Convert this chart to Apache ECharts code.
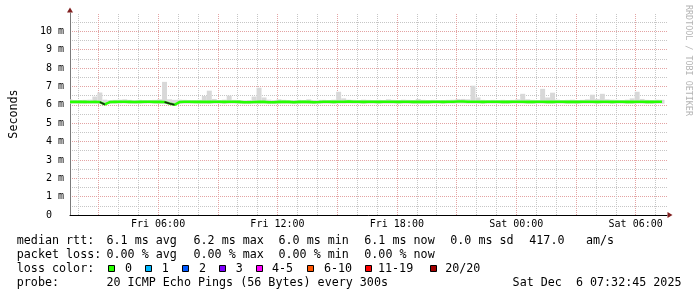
<!DOCTYPE html>
<html><head><meta charset="utf-8">
<script src="https://cdn.jsdelivr.net/npm/echarts@6/dist/echarts.min.js"></script>
<style>html,body{margin:0;padding:0;background:#fff}#c{width:697px;height:297px}</style>
</head><body><div id="c"></div>
<script>
// time axis: hours since Fri 00:00
const START = 1.575;
const STEP = 0.25;
const SPAN = 30;
const xTickHours = [6, 12, 18, 24, 30];
const xTickLabels = ['Fri 06:00', 'Fri 12:00', 'Fri 18:00', 'Sat 00:00', 'Sat 06:00'];
const yTickValues = [0,1,2,3,4,5,6,7,8,9,10];

// median rtt (ms), one value per 15 minutes
const median = [
6.16,6.16,6.17,6.16,6.15,6.16,6.15,6.02,6.15,6.16,
6.17,6.17,6.16,6.15,6.16,6.17,6.17,6.16,6.16,6.15,
6.07,6.00,6.15,6.17,6.17,6.16,6.16,6.17,6.16,6.17,
6.17,6.16,6.17,6.17,6.16,6.14,6.14,6.15,6.16,6.16,
6.14,6.14,6.16,6.17,6.16,6.14,6.16,6.17,6.16,6.14,
6.15,6.17,6.17,6.16,6.17,6.17,6.18,6.17,6.17,6.16,
6.17,6.17,6.16,6.17,6.17,6.17,6.16,6.17,6.17,6.16,
6.16,6.16,6.16,6.17,6.17,6.16,6.17,6.17,6.18,6.18,
6.17,6.17,6.17,6.16,6.17,6.17,6.17,6.16,6.16,6.17,
6.17,6.17,6.16,6.16,6.17,6.17,6.16,6.16,6.17,6.17,
6.16,6.17,6.16,6.17,6.17,6.17,6.16,6.17,6.17,6.16,
6.17,6.17,6.16,6.16,6.17,6.17,6.16,6.16,6.17,6.17];

// smoke (min / max of pings)
const smokeLow = [
6.06,6.07,6.06,6.05,6.06,6.06,6.05,5.99,6.05,6.06,
6.06,6.07,6.06,6.05,6.06,6.06,6.07,6.06,6.05,6.04,
6.02,5.97,6.05,6.06,6.06,6.07,6.06,6.06,6.05,6.06,
6.06,6.05,6.06,6.06,6.05,6.04,6.04,6.05,6.05,6.06,
6.04,6.04,6.05,6.06,6.06,6.04,6.05,6.06,6.05,6.04,
6.05,6.06,6.06,6.05,6.06,6.06,6.07,6.06,6.06,6.05,
6.06,6.06,6.05,6.06,6.06,6.06,6.05,6.06,6.06,6.05,
6.05,6.05,6.05,6.06,6.06,6.05,6.06,6.06,6.07,6.07,
6.06,6.06,6.06,6.05,6.06,6.06,6.06,6.05,6.05,6.06,
6.06,6.06,6.05,6.05,6.06,6.06,6.05,6.05,6.06,6.06,
6.05,6.06,6.05,6.06,6.06,6.06,6.05,6.06,6.06,6.05,
6.06,6.06,6.05,6.05,6.06,6.06,6.05,6.05,6.06,6.06];
const smokeHigh = [
6.30,6.26,6.26,6.27,6.28,6.45,6.67,6.28,6.26,6.27,
6.28,6.30,6.27,6.26,6.27,6.26,6.26,6.27,6.30,7.25,
6.30,6.27,6.28,6.27,6.26,6.26,6.27,6.48,6.77,6.32,
6.26,6.28,6.50,6.27,6.26,6.25,6.26,6.45,6.93,6.40,
6.28,6.26,6.30,6.27,6.25,6.26,6.27,6.26,6.30,6.26,
6.27,6.27,6.26,6.28,6.71,6.35,6.28,6.27,6.26,6.28,
6.27,6.26,6.27,6.26,6.30,6.27,6.26,6.28,6.27,6.26,
6.32,6.27,6.26,6.27,6.26,6.26,6.27,6.28,6.32,6.32,
6.30,7.04,6.40,6.27,6.26,6.27,6.26,6.27,6.26,6.27,
6.30,6.60,6.30,6.27,6.26,6.87,6.40,6.66,6.28,6.26,
6.27,6.28,6.26,6.27,6.30,6.55,6.32,6.60,6.30,6.28,
6.27,6.26,6.28,6.35,6.71,6.32,6.27,6.26,6.28,6.27];
// index ranges where median line is drawn dark
const darkRanges = [[6, 7], [19, 21]];

// legend texts
const rowLabels = ['median rtt:', 'packet loss:', 'loss color:', 'probe:'];
const rttStats = ['6.1 ms avg', '6.2 ms max', '6.0 ms min', '6.1 ms now', '0.0 ms sd', '417.0', 'am/s'];
const lossStats = ['0.00 % avg', '0.00 % max', '0.00 % min', '0.00 % now'];
const lossLabels = ['0', '1', '2', '3', '4-5', '6-10', '11-19', '20/20'];
const lossColorValues = ['#26ff00', '#00b8ff', '#0059ff', '#7e00ff', '#ff00ff', '#ff5500', '#ff0000', '#a00000'];
const probeText = '20 ICMP Echo Pings (56 Bytes) every 300s';
const dateText = 'Sat Dec  6 07:32:45 2025';
const watermark = 'RRDTOOL / TOBI OETIKER';

const tOf = i => START + i * STEP;
const medianData = median.map((v, i) => [tOf(i), v]);
const smokeData = smokeLow.map((v, i) => [tOf(i), v, smokeHigh[i]]);
const darkData = [];
darkRanges.forEach((r, k) => {
  if (k > 0) darkData.push([null, null]);
  for (let i = r[0]; i <= r[1]; i++) darkData.push([tOf(i), median[i]]);
});

const PINK = '#e3a3a3', GRAY = '#c6c6c6';
const vLines = [];
for (let h = Math.ceil(START); h <= START + SPAN; h++) {
  vLines.push({ xAxis: h, lineStyle: { color: h % 3 === 0 ? PINK : GRAY, type: [1, 1], width: 1 } });
}

const MONO = 'DejaVu Sans Mono';
const LF = '11.7px "DejaVu Sans Mono"';
const rowY = [241, 255, 268.5, 282.5];
const rttX = [106.5, 193.5, 278.5, 364.3, 450.3, 529.3, 586];
const boxX = [108.5, 145.5, 182.5, 219.5, 256.5, 307.5, 365.5, 430.5];
const lblX = [125, 161.8, 199, 235.8, 272, 324, 378, 445.2];
const g = [];
const txt = (s, x, y) => g.push({ type: 'text', x: x, y: y, silent: true,
  style: { text: s, font: LF, fill: '#000', verticalAlign: 'middle', align: 'left' } });
rowLabels.forEach((s, k) => txt(s, 16.8, rowY[k]));
rttStats.forEach((s, k) => txt(s, rttX[k], rowY[0]));
lossStats.forEach((s, k) => txt(s, rttX[k], rowY[1]));
lossLabels.forEach((s, k) => {
  g.push({ type: 'rect', silent: true, shape: { x: boxX[k], y: 265.5, width: 6, height: 6 },
    style: { fill: lossColorValues[k], stroke: '#000', lineWidth: 1 } });
  txt(s, lblX[k], rowY[2]);
});
txt(probeText, rttX[0], rowY[3]);
txt(dateText, 512.6, rowY[3]);
g.push({ type: 'text', x: 688, y: 5, rotation: -Math.PI / 2, silent: true,
  style: { text: watermark, font: '8.4px "DejaVu Sans Mono"', fill: '#b4b4b4', align: 'left', verticalAlign: 'middle' } });

const chart = echarts.init(document.getElementById('c'), null, { renderer: 'canvas' });
chart.setOption({
  animation: false,
  backgroundColor: '#ffffff',
  grid: { left: 67, right: 30, top: 13, bottom: 82, containLabel: false },
  xAxis: [{
    type: 'value', min: START, max: START + SPAN,
    axisLine: { show: true, lineStyle: { color: '#000', width: 1 } },
    axisTick: { show: false },
    splitLine: { show: false },
    axisLabel: { customValues: xTickHours, margin: 4, color: '#000',
      fontFamily: MONO, fontSize: 10,
      formatter: v => { const k = xTickHours.findIndex(h => Math.abs(h - v) < 1e-6); return k >= 0 ? xTickLabels[k] : ''; } }
  }, {
    type: 'value', min: START, max: START + SPAN, position: 'bottom',
    axisLine: { show: true, symbol: ['none', 'triangle'], symbolSize: [6, 5], symbolOffset: [0, 3],
      lineStyle: { color: '#801f1f', width: 0 } },
    axisTick: { show: false }, axisLabel: { show: false }, splitLine: { show: false }
  }],
  yAxis: [{
    type: 'value', min: 0, max: 11, interval: 0.5,
    name: 'Seconds', nameLocation: 'middle', nameRotate: 90, nameGap: 50,
    nameTextStyle: { fontFamily: MONO, fontSize: 11.7, color: '#000' },
    axisLine: { show: true, lineStyle: { color: '#7a7a7a', width: 1 } },
    axisTick: { show: false },
    splitLine: { show: true, showMaxLine: false, showMinLine: true,
      lineStyle: { color: [PINK, GRAY], type: [1, 1], width: 1 } },
    axisLabel: { margin: 6, color: '#000', fontFamily: MONO, fontSize: 10, showMaxLabel: false,
      formatter: v => { const k = yTickValues.indexOf(v); return k < 0 ? '' : (v === 0 ? '0  ' : v + ' m'); } }
  }, {
    type: 'value', min: 0, max: 11, position: 'left',
    axisLine: { show: true, symbol: ['none', 'triangle'], symbolSize: [6, 5], symbolOffset: [0, 3],
      lineStyle: { color: '#801f1f', width: 0 } },
    axisTick: { show: false }, axisLabel: { show: false }, splitLine: { show: false }
  }],
  graphic: g,
  series: [
    { type: 'line', data: [], silent: true, z: 1,
      markLine: { silent: true, symbol: ['none', 'none'], z: 1, label: { show: false },
        lineStyle: { type: [1, 1], width: 1 }, data: vLines } },
    { type: 'custom', data: smokeData, silent: true, z: 2, clip: true,
      renderItem: (params, api) => {
        const t = api.value(0);
        const p1 = api.coord([t, api.value(2)]);
        const p2 = api.coord([t, api.value(1)]);
        const w = api.size([STEP, 0])[0];
        return { type: 'rect', shape: { x: p1[0] - w / 2, y: p1[1], width: w, height: p2[1] - p1[1] },
          style: { fill: '#d8d8d8' } };
      } },
    { type: 'line', data: medianData, showSymbol: false, silent: true, z: 3,
      lineStyle: { color: '#26ff00', width: 2.6 } },
    { type: 'line', data: darkData, showSymbol: false, silent: true, z: 4, connectNulls: false,
      lineStyle: { color: '#1a1a1a', width: 1.5 } }
  ]
});
</script></body></html>
